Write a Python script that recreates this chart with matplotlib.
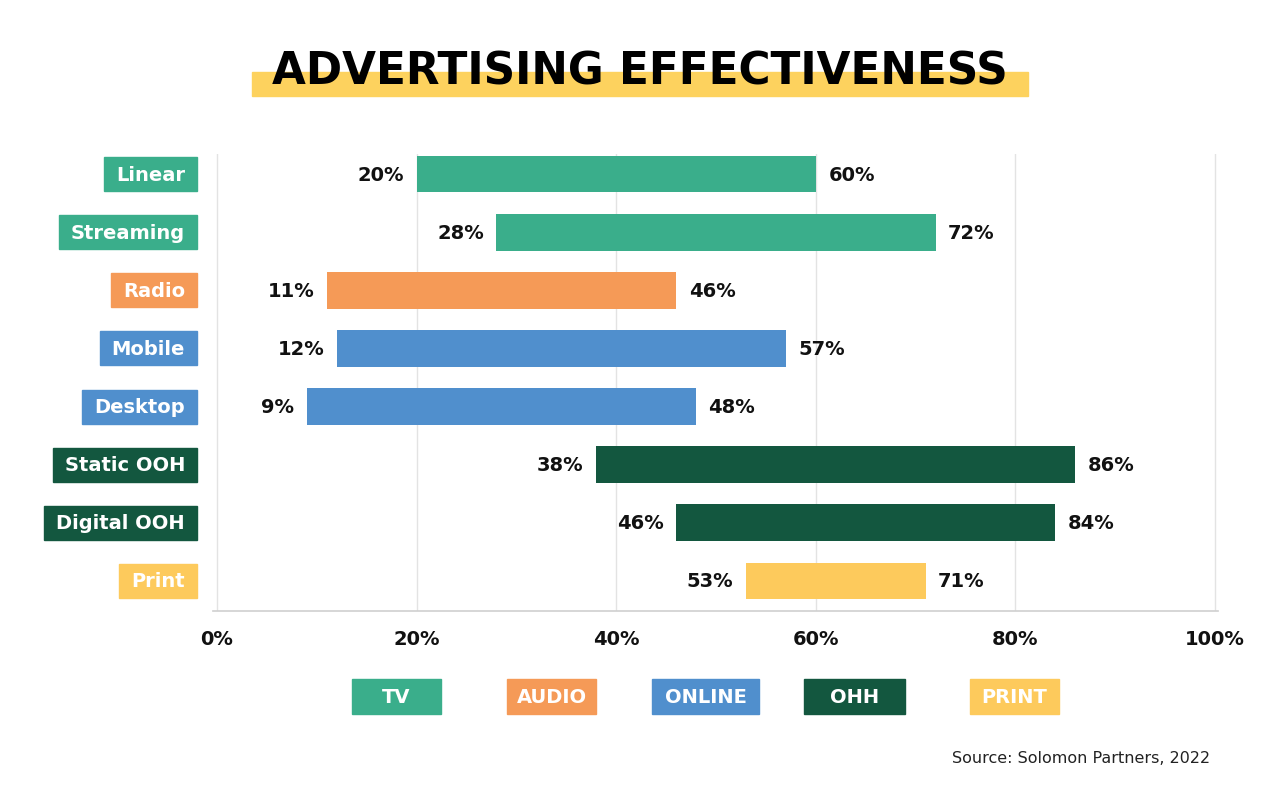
import matplotlib.pyplot as plt
from matplotlib.patches import Rectangle
import matplotlib.transforms as mtransforms

plt.rcParams['font.family'] = ['DejaVu Sans']

categories = ["Linear", "Streaming", "Radio", "Mobile", "Desktop", "Static OOH", "Digital OOH", "Print"]
low_values = [20, 28, 11, 12, 9, 38, 46, 53]
high_values = [60, 72, 46, 57, 48, 86, 84, 71]
groups = ["TV", "TV", "AUDIO", "ONLINE", "ONLINE", "OHH", "OHH", "PRINT"]
x_ticks = [0, 20, 40, 60, 80, 100]

group_colors = {
    "TV": "#3aae8b",
    "AUDIO": "#f59a57",
    "ONLINE": "#508fcd",
    "OHH": "#13573f",
    "PRINT": "#fdca5c",
}

W, H = 1280, 804
fig = plt.figure(figsize=(W / 100, H / 100), dpi=100)


def fx(px):
    return px / W


def fy(py):
    return 1 - py / H


ax = fig.add_axes([fx(213), fy(612), fx(1218) - fx(213), fy(155) - fy(612)])
ax.set_xlim(-0.4, 100.3)
ax.set_ylim(len(categories) - 1 + 0.516, -0.344)

for x in x_ticks:
    ax.axvline(x, color="#e3e3e3", linewidth=1, zorder=0)

ys = list(range(len(categories)))
colors = [group_colors[g] for g in groups]
widths = [h - l for l, h in zip(low_values, high_values)]
ax.barh(ys, widths, left=low_values, height=0.636, color=colors, zorder=2)

for y, lo, hi in zip(ys, low_values, high_values):
    ax.annotate(f"{lo}%", (lo, y), xytext=(-9, 0), textcoords="offset points",
                ha="right", va="center", fontsize=14, fontweight="bold", color="#111111")
    ax.annotate(f"{hi}%", (hi, y), xytext=(9, 0), textcoords="offset points",
                ha="left", va="center", fontsize=14, fontweight="bold", color="#111111")

for s in ["top", "right", "left"]:
    ax.spines[s].set_visible(False)
ax.spines["bottom"].set_color("#cfcfcf")
ax.spines["bottom"].set_linewidth(1.2)
ax.set_yticks([])
ax.set_xticks(x_ticks)
ax.set_xticklabels([f"{t}%" for t in x_ticks], fontsize=14, fontweight="bold", color="#111111")
ax.tick_params(axis="x", length=0, pad=13)

# category label boxes on the left
fig.canvas.draw()
renderer = fig.canvas.get_renderer()
row_trans = mtransforms.blended_transform_factory(fig.transFigure, ax.transData)
for y, cat, g in zip(ys, categories, groups):
    t = fig.text(fx(185), 0, cat, transform=row_trans, ha="right", va="center",
                 fontsize=14, fontweight="bold", color="white", zorder=5)
    t.set_y(y)
    ext = t.get_window_extent(renderer)
    yc = ax.transData.transform((0, y))[1]
    left_px = ext.x0 - 12
    fig.patches.append(Rectangle((fx(left_px), (yc - 17) / H), fx(197) - fx(left_px), 34 / H,
                                 transform=fig.transFigure, color=group_colors[g], zorder=1))

# title with highlight
fig.patches.append(Rectangle((fx(252), fy(97)), fx(1028) - fx(252), 24 / H,
                             transform=fig.transFigure, color="#fdd25e", zorder=0))
fig.text(0.5, fy(72), "ADVERTISING EFFECTIVENESS", ha="center", va="center",
         fontsize=31.5, fontweight="bold", color="black")

# legend boxes
legend_names = ["TV", "AUDIO", "ONLINE", "OHH", "PRINT"]
legend_px = [(352, 441), (507, 596), (652, 759), (804, 905), (970, 1059)]
for name, (x0, x1) in zip(legend_names, legend_px):
    fig.patches.append(Rectangle((fx(x0), fy(715)), fx(x1) - fx(x0), 35 / H,
                                 transform=fig.transFigure, color=group_colors[name]))
    fig.text(fx((x0 + x1) / 2), fy(697.5), name, ha="center", va="center",
             fontsize=14, fontweight="bold", color="white")

fig.text(fx(1210), fy(759), "Source: Solomon Partners, 2022", ha="right", va="center",
         fontsize=11.5, color="#222222")

fig.savefig("out.png", dpi=100, facecolor="white")
